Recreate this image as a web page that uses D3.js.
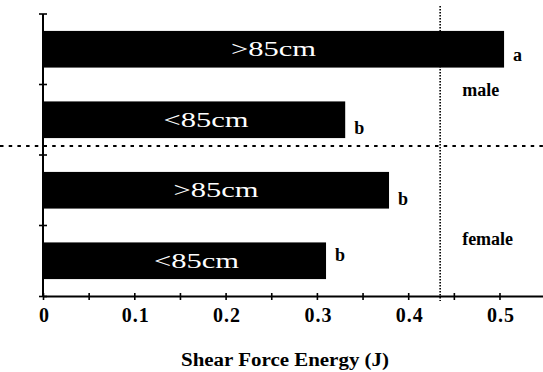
<!DOCTYPE html>
<html><head><meta charset="utf-8">
<script src="https://cdn.jsdelivr.net/npm/d3@7/dist/d3.min.js"></script>
<style>body{margin:0;background:#fff}svg{display:block}</style>
</head><body>
<script>
// ---- data ----
const categories = ["male >85cm", "male <85cm", "female >85cm", "female <85cm"];
const barLabels = [">85cm", "<85cm", ">85cm", "<85cm"];
const values = [0.505, 0.331, 0.379, 0.310];
const letters = ["a", "b", "b", "b"];
const groups = ["male", "female"];
const xTickLabels = [0, 0.1, 0.2, 0.3, 0.4, 0.5];
const xTickMarks = [0, 0.05, 0.1, 0.15, 0.2, 0.25, 0.3, 0.35, 0.4, 0.45, 0.5];
const refValue = 0.435;
const xTitle = "Shear Force Energy (J)";

// ---- layout ----
const W = 543, H = 372;
const svg = d3.select("body").append("svg").attr("width", W).attr("height", H)
  .attr("font-family", "Liberation Serif");

const x = d3.scaleLinear().domain([0, 0.5]).range([43, 499.5]);
const y = d3.scaleBand().domain(categories).range([14, 296]).paddingInner(0.48).paddingOuter(0.24);
const bw = y.bandwidth(), step = y.step();
const axisY = 296.5;

// bars
svg.append("g").selectAll("rect").data(categories).join("rect")
  .attr("x", x(0)).attr("y", d => y(d))
  .attr("width", (d, i) => x(values[i]) - x(0)).attr("height", bw)
  .attr("fill", "#000");

// bar inner labels
svg.append("g").selectAll("text").data(categories).join("text")
  .attr("x", (d, i) => (x(0) + x(values[i])) / 2 + (barLabels[i][0] === "<" ? 12 : 0))
  .attr("y", d => y(d) + bw / 2 + 7)
  .attr("text-anchor", "middle").attr("fill", "#fff")
  .attr("font-family", "Liberation Serif").attr("font-size", 21)
  .attr("textLength", 85).attr("lengthAdjust", "spacingAndGlyphs")
  .text((d, i) => barLabels[i]);

// significance letters
const letterDy = [12, 14, 15, 0];
svg.append("g").selectAll("text").data(categories).join("text")
  .attr("x", (d, i) => x(values[i]) + 9)
  .attr("y", (d, i) => y(d) + bw / 2 + letterDy[i])
  .attr("font-family", "Liberation Serif").attr("font-weight", "bold").attr("font-size", 18)
  .text((d, i) => letters[i]);

// group labels
const gx = x(refValue) + 22;
svg.append("text").attr("x", gx)
  .attr("y", (y(categories[0]) + y(categories[1]) + bw) / 2 + 11)
  .attr("font-family", "Liberation Serif").attr("font-weight", "bold").attr("font-size", 18)
  .text(groups[0]);
svg.append("text").attr("x", gx)
  .attr("y", (y(categories[2]) + y(categories[3]) + bw) / 2 + 19)
  .attr("font-family", "Liberation Serif").attr("font-weight", "bold").attr("font-size", 18)
  .text(groups[1]);

// horizontal dashed divider between groups
const divY = y(categories[1]) + bw + (step - bw) / 2 - 9;
svg.append("line").attr("x1", 0).attr("x2", W).attr("y1", divY).attr("y2", divY)
  .attr("stroke", "#000").attr("stroke-width", 2).attr("stroke-dasharray", "3.5,5.2");

// vertical dotted reference line
svg.append("line").attr("x1", x(refValue)).attr("x2", x(refValue)).attr("y1", 6).attr("y2", 301)
  .attr("stroke", "#000").attr("stroke-width", 1.6).attr("stroke-dasharray", "1.6,1.4");

// y axis
svg.append("line").attr("x1", x(0)).attr("x2", x(0)).attr("y1", 14).attr("y2", axisY)
  .attr("stroke", "#000").attr("stroke-width", 2);
const yTickPos = categories.map(c => y(c) - (step - bw) / 2).concat([axisY]);
svg.append("g").selectAll("line").data(yTickPos).join("line")
  .attr("x1", x(0) - 4).attr("x2", x(0) + 4).attr("y1", d => d).attr("y2", d => d)
  .attr("stroke", "#000").attr("stroke-width", 1.6);

// x axis (d3 axis for tick marks and labels)
const xAxis = d3.axisBottom(x).tickValues(xTickMarks).tickSize(3.5).tickSizeOuter(0)
  .tickFormat(d => xTickLabels.some(v => Math.abs(v - d) < 1e-9) ? String(+d.toFixed(2)) : "");
const gAxis = svg.append("g").attr("transform", `translate(0,${axisY})`).call(xAxis)
  .attr("font-family", "Liberation Serif").attr("font-size", 20).attr("font-weight", "bold");
gAxis.select(".domain").remove();
gAxis.selectAll(".tick line").attr("y1", -3.5).attr("y2", 3.5).attr("stroke", "#000").attr("stroke-width", 1.6);
gAxis.selectAll(".tick text").attr("y", 25.5).attr("dy", null).attr("dx", 1)
  .attr("font-family", "Liberation Serif").attr("letter-spacing", 1).attr("fill", "#000");
svg.append("line").attr("x1", x(0)).attr("x2", W).attr("y1", axisY).attr("y2", axisY)
  .attr("stroke", "#000").attr("stroke-width", 2);

// axis title
svg.append("text").attr("x", 285).attr("y", 366).attr("text-anchor", "middle")
  .attr("font-family", "Liberation Serif").attr("font-weight", "bold").attr("font-size", 18)
  .attr("textLength", 208).attr("lengthAdjust", "spacingAndGlyphs")
  .text(xTitle);
</script>
</body></html>
